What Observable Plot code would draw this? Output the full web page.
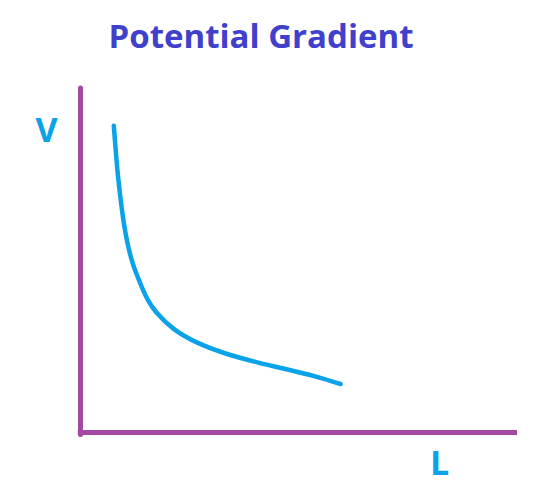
<!DOCTYPE html>
<html>
<head>
<meta charset="utf-8">
<script src="https://cdn.jsdelivr.net/npm/d3@7"></script>
<script src="https://cdn.jsdelivr.net/npm/@observablehq/plot@0.6"></script>
<style>
  html, body { margin: 0; padding: 0; background: #fff; }
</style>
</head>
<body>
<div id="chart"></div>
<script>
const titleText = "Potential Gradient";
const xLabel = "L";
const yLabel = "V";
const lengthL = [0.762, 0.801, 0.854, 0.915, 0.991, 1.082, 1.183, 1.304, 1.442, 1.533, 1.693, 2.128, 2.677, 3.272, 4.05, 4.81, 5.42, 5.95];
const potentialV = [8.92, 8.26, 7.47, 6.80, 6.05, 5.44, 4.94, 4.53, 4.10, 3.87, 3.52, 2.97, 2.59, 2.30, 2.03, 1.81, 1.62, 1.41];

const curve = lengthL.map((l, i) => ({L: l, V: potentialV[i]}));

const axisColor = "#a349a4";
const curveColor = "#0aa2e8";
const titleColor = "#4040cc";
const font = "'Open Sans', sans-serif";

const chart = Plot.plot({
  width: 546,
  height: 490,
  marginLeft: 80,
  marginRight: 29,
  marginTop: 88,
  marginBottom: 58,
  x: {domain: [0, 10], axis: null},
  y: {domain: [0, 10], axis: null},
  style: {background: "#fff", overflow: "visible"},
  marks: [
    Plot.ruleY([0], {x1: -0.05, x2: 10, stroke: axisColor, strokeWidth: 5, strokeLinecap: "butt"}),
    Plot.ruleX([0], {y1: -0.07, y2: 10, stroke: axisColor, strokeWidth: 5, strokeLinecap: "round"}),
    Plot.line(curve, {x: "L", y: "V", curve: "basis", stroke: curveColor, strokeWidth: 4.5, strokeLinecap: "round"}),
    Plot.text([titleText], {frameAnchor: "top", dx: -38, dy: -41, lineAnchor: "bottom", fill: titleColor, fontSize: 33, fontWeight: "bold", fontFamily: font}),
    Plot.text([yLabel], {frameAnchor: "top-left", dx: -34, dy: 53, textAnchor: "middle", lineAnchor: "bottom", fill: curveColor, fontSize: 34, fontWeight: "bold", fontFamily: font}),
    Plot.text([xLabel], {frameAnchor: "bottom-left", dx: 359, dy: 42, textAnchor: "middle", lineAnchor: "bottom", fill: curveColor, fontSize: 34, fontWeight: "bold", fontFamily: font})
  ]
});
document.getElementById("chart").appendChild(chart);
</script>
</body>
</html>
